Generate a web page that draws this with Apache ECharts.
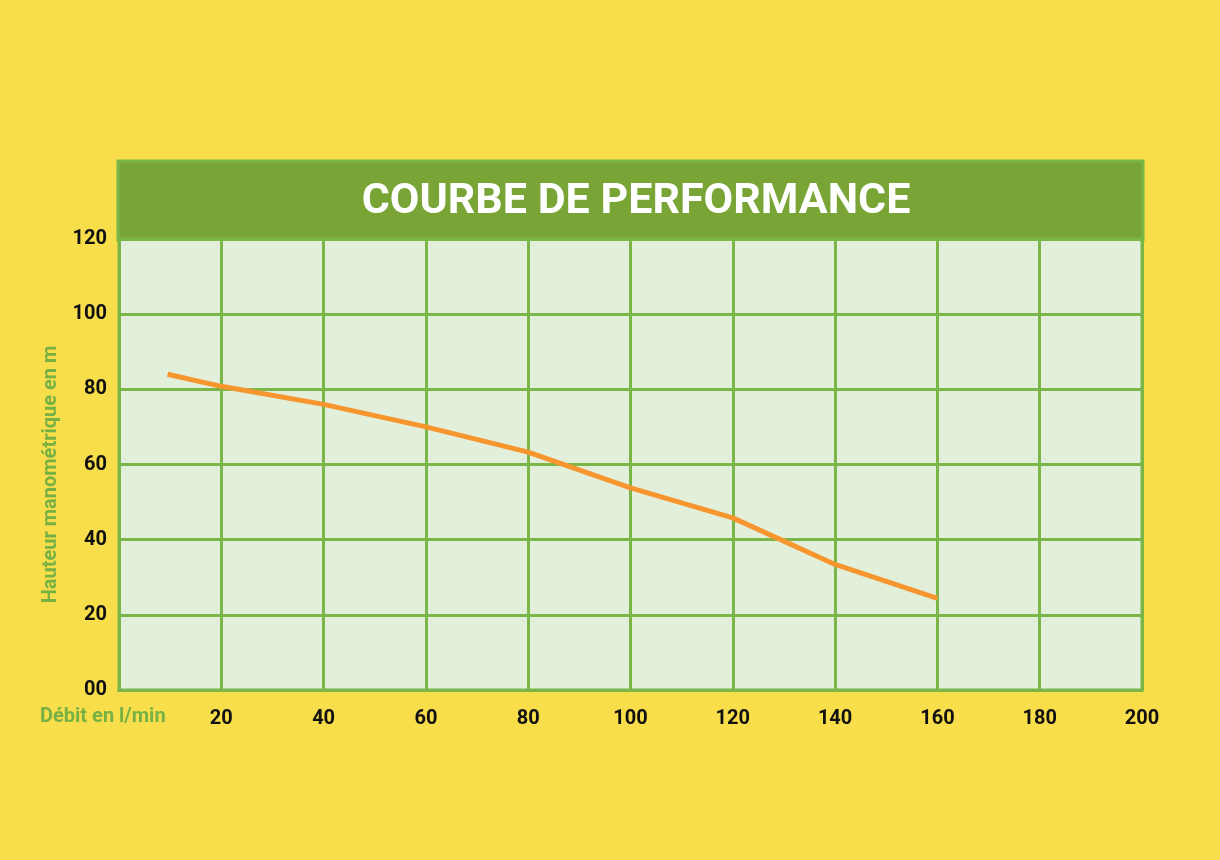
<!DOCTYPE html>
<html>
<head>
<meta charset="utf-8">
<script src="https://cdn.jsdelivr.net/npm/echarts@6/dist/echarts.min.js"></script>
<style>
html,body{margin:0;padding:0;background:#F9DE4B;}
#c{width:1220px;height:860px;}
</style>
</head>
<body>
<div id="c"></div>
<script>
const flowValues = [9.5, 20, 40, 60, 80, 100, 120, 140, 160];
const headValues = [84, 80.8, 76, 70, 63.3, 53.8, 45.8, 33.4, 24.4];
const xTicks = [20, 40, 60, 80, 100, 120, 140, 160, 180, 200];
const yTicks = ['00', '20', '40', '60', '80', '100', '120'];

const green = '#7AB648';
const chart = echarts.init(document.getElementById('c'));
chart.setOption({
  backgroundColor: '#F9DE4B',
  animation: false,
  title: {
    text: 'COURBE DE PERFORMANCE',
    left: 631, top: 176, textAlign: 'center',
    textStyle: {color: '#fff', fontSize: 43, fontWeight: 'bold', fontFamily: 'Roboto'}
  },
  graphic: [
    {type: 'rect', z: -1, shape: {x: 118, y: 161, width: 1025, height: 79},
     style: {fill: '#78A535', stroke: green, lineWidth: 3}},
    {type: 'text', left: 40, top: 707,
     style: {text: 'Débit en l/min', fill: '#77B043', font: 'bold 20px Roboto'}}
  ],
  grid: {left: 119, top: 239, width: 1023, height: 451, show: true,
    backgroundColor: '#E2EFDA', borderColor: green, borderWidth: 3},
  xAxis: {
    type: 'value', min: 0, max: 200, interval: 20,
    axisLine: {show: true, lineStyle: {color: green, width: 3}},
    axisTick: {show: false},
    splitLine: {show: true, lineStyle: {color: green, width: 3}},
    axisLabel: {color: '#111', fontSize: 20, fontWeight: 'bold', fontFamily: 'Roboto', margin: 19,
      formatter: v => xTicks.indexOf(v) >= 0 ? String(v) : ''}
  },
  yAxis: {
    type: 'value', min: 0, max: 120, interval: 20,
    name: 'Hauteur manométrique en m', nameLocation: 'middle', nameGap: 58,
    nameTextStyle: {color: '#77B043', fontSize: 20, fontWeight: 'bold', fontFamily: 'Roboto',
      padding: [0, 20, 0, 0]},
    axisLine: {show: true, lineStyle: {color: green, width: 3}},
    axisTick: {show: false},
    splitLine: {show: true, lineStyle: {color: green, width: 3}},
    axisLabel: {color: '#111', fontSize: 20, fontWeight: 'bold', fontFamily: 'Roboto', margin: 12,
      formatter: v => yTicks[v / 20]}
  },
  series: [{
    type: 'line', data: flowValues.map((x, i) => [x, headValues[i]]),
    symbol: 'none', lineStyle: {color: '#F7952F', width: 5, cap: 'butt'}
  }]
});
</script>
</body>
</html>
